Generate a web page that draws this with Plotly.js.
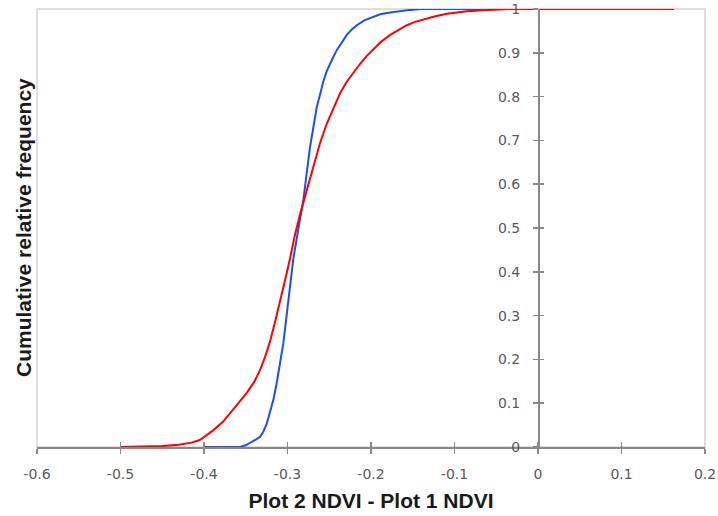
<!DOCTYPE html>
<html>
<head>
<meta charset="utf-8">
<script src="https://cdn.plot.ly/plotly-3.0.1.min.js"></script>
<style>html,body{margin:0;padding:0;background:#fff;}#chart{width:718px;height:516px;}</style>
</head>
<body>
<div id="chart"></div>
<script>
// Red series (cumulative relative frequency)
const redX = [-0.500, -0.450, -0.430, -0.415, -0.405, -0.397, -0.389, -0.377, -0.365, -0.357, -0.349, -0.340, -0.333, -0.327, -0.321, -0.315, -0.309, -0.303, -0.297, -0.291, -0.284, -0.277, -0.269, -0.261, -0.253, -0.245, -0.237, -0.229, -0.221, -0.213, -0.205, -0.198, -0.188, -0.177, -0.167, -0.157, -0.148, -0.138, -0.124, -0.109, -0.097, -0.085, -0.065, -0.046, -0.034, 0.163];
const redY = [0.000, 0.002, 0.005, 0.010, 0.016, 0.026, 0.038, 0.058, 0.085, 0.103, 0.123, 0.148, 0.175, 0.205, 0.240, 0.285, 0.330, 0.380, 0.430, 0.485, 0.538, 0.587, 0.642, 0.694, 0.738, 0.775, 0.808, 0.834, 0.856, 0.875, 0.893, 0.907, 0.925, 0.941, 0.953, 0.963, 0.970, 0.976, 0.983, 0.989, 0.992, 0.995, 0.997, 0.998, 1.000, 1.000];
// Blue series (cumulative relative frequency)
const blueX = [-0.400, -0.357, -0.350, -0.343, -0.337, -0.333, -0.329, -0.325, -0.321, -0.317, -0.313, -0.309, -0.305, -0.302, -0.299, -0.296, -0.293, -0.289, -0.285, -0.281, -0.277, -0.273, -0.269, -0.265, -0.261, -0.257, -0.253, -0.249, -0.245, -0.241, -0.235, -0.229, -0.223, -0.217, -0.208, -0.198, -0.189, -0.181, -0.167, -0.153, -0.140, -0.057];
const blueY = [0.000, 0.000, 0.004, 0.011, 0.018, 0.023, 0.035, 0.052, 0.078, 0.107, 0.145, 0.190, 0.237, 0.285, 0.335, 0.382, 0.430, 0.475, 0.518, 0.564, 0.625, 0.685, 0.730, 0.776, 0.805, 0.835, 0.858, 0.876, 0.891, 0.906, 0.925, 0.941, 0.953, 0.963, 0.974, 0.982, 0.988, 0.991, 0.995, 0.998, 1.000, 1.000];
// Tick labels
const xTickVals = [-0.6, -0.5, -0.4, -0.3, -0.2, -0.1, 0, 0.1, 0.2];
const xTickText = ["-0.6", "-0.5", "-0.4", "-0.3", "-0.2", "-0.1", "0", "0.1", "0.2"];
const yTickVals = [0, 0.1, 0.2, 0.3, 0.4, 0.5, 0.6, 0.7, 0.8, 0.9, 1];
const yTickText = ["0", "0.1", "0.2", "0.3", "0.4", "0.5", "0.6", "0.7", "0.8", "0.9", "1"];
const xTitle = "Plot 2 NDVI - Plot 1 NDVI";
const yTitle = "Cumulative relative frequency";

const xRange = [-0.6, 0.2];
const yRange = [0, 1];
const axisGray = '#898989';
const tickFont = {family: 'DejaVu Sans', size: 14, color: '#595959'};

const traces = [
  {x: blueX, y: blueY, type: 'scatter', mode: 'lines', line: {color: '#1f4fe6', width: 2}, xaxis: 'x', yaxis: 'y', hoverinfo: 'skip'},
  {x: redX, y: redY, type: 'scatter', mode: 'lines', line: {color: '#ff0000', width: 2}, xaxis: 'x', yaxis: 'y', hoverinfo: 'skip'},
  {x: [], y: [], type: 'scatter', mode: 'lines', xaxis: 'x2', yaxis: 'y', showlegend: false},
  {x: [], y: [], type: 'scatter', mode: 'lines', xaxis: 'x', yaxis: 'y2', showlegend: false}
];

const zeroPos = (0 - xRange[0]) / (xRange[1] - xRange[0]);

const layout = {
  width: 718, height: 516,
  margin: {l: 37, r: 13, t: 9, b: 69},
  paper_bgcolor: '#ffffff', plot_bgcolor: '#ffffff',
  showlegend: false,
  font: {family: 'Liberation Sans, Arial, sans-serif'},
  xaxis: {
    domain: [0, 1], range: xRange, anchor: 'y',
    tickvals: xTickVals, ticktext: xTickText,
    ticks: 'outside', ticklen: 5, tickwidth: 1.5, tickcolor: axisGray,
    showline: true, linecolor: axisGray, linewidth: 1.5,
    showgrid: false, zeroline: false,
    tickfont: tickFont, ticklabelstandoff: 9,
    title: {text: xTitle, font: {family: 'Liberation Sans, Arial, sans-serif', size: 21, color: '#1a1a1a', weight: 'bold'}, standoff: 12},
    fixedrange: true
  },
  xaxis2: {
    overlaying: 'x', anchor: 'y', range: xRange,
    tickvals: xTickVals, ticks: 'inside', ticklen: 5, tickwidth: 1.5, tickcolor: axisGray,
    showticklabels: false, showline: false, showgrid: false, zeroline: false, fixedrange: true
  },
  yaxis: {
    domain: [0, 1], range: yRange, anchor: 'free', position: zeroPos, side: 'left',
    tickvals: yTickVals, ticktext: yTickText,
    ticks: 'outside', ticklen: 5, tickwidth: 1.5, tickcolor: axisGray,
    showline: true, linecolor: axisGray, linewidth: 1.5,
    showgrid: false, zeroline: false,
    tickfont: tickFont, ticklabelstandoff: 10, fixedrange: true
  },
  yaxis2: {
    overlaying: 'y', anchor: 'free', position: zeroPos, side: 'left', range: yRange,
    tickvals: yTickVals, ticks: 'inside', ticklen: 5, tickwidth: 1.5, tickcolor: axisGray,
    showticklabels: false, showline: false, showgrid: false, zeroline: false, fixedrange: true
  },
  shapes: [
    {type: 'rect', xref: 'paper', yref: 'paper', x0: 0, x1: 1, y0: 0, y1: 1, line: {color: '#d4d4d4', width: 1.5}, layer: 'below'}
  ],
  annotations: [
    {text: yTitle, xref: 'paper', yref: 'paper', x: 0, y: 0.5, xshift: -14, xanchor: 'center', yanchor: 'middle',
     textangle: -90, showarrow: false, font: {family: 'Liberation Sans, Arial, sans-serif', size: 21, color: '#1a1a1a', weight: 'bold'}}
  ]
};

Plotly.newPlot('chart', traces, layout, {displayModeBar: false, staticPlot: true});
</script>
</body>
</html>
